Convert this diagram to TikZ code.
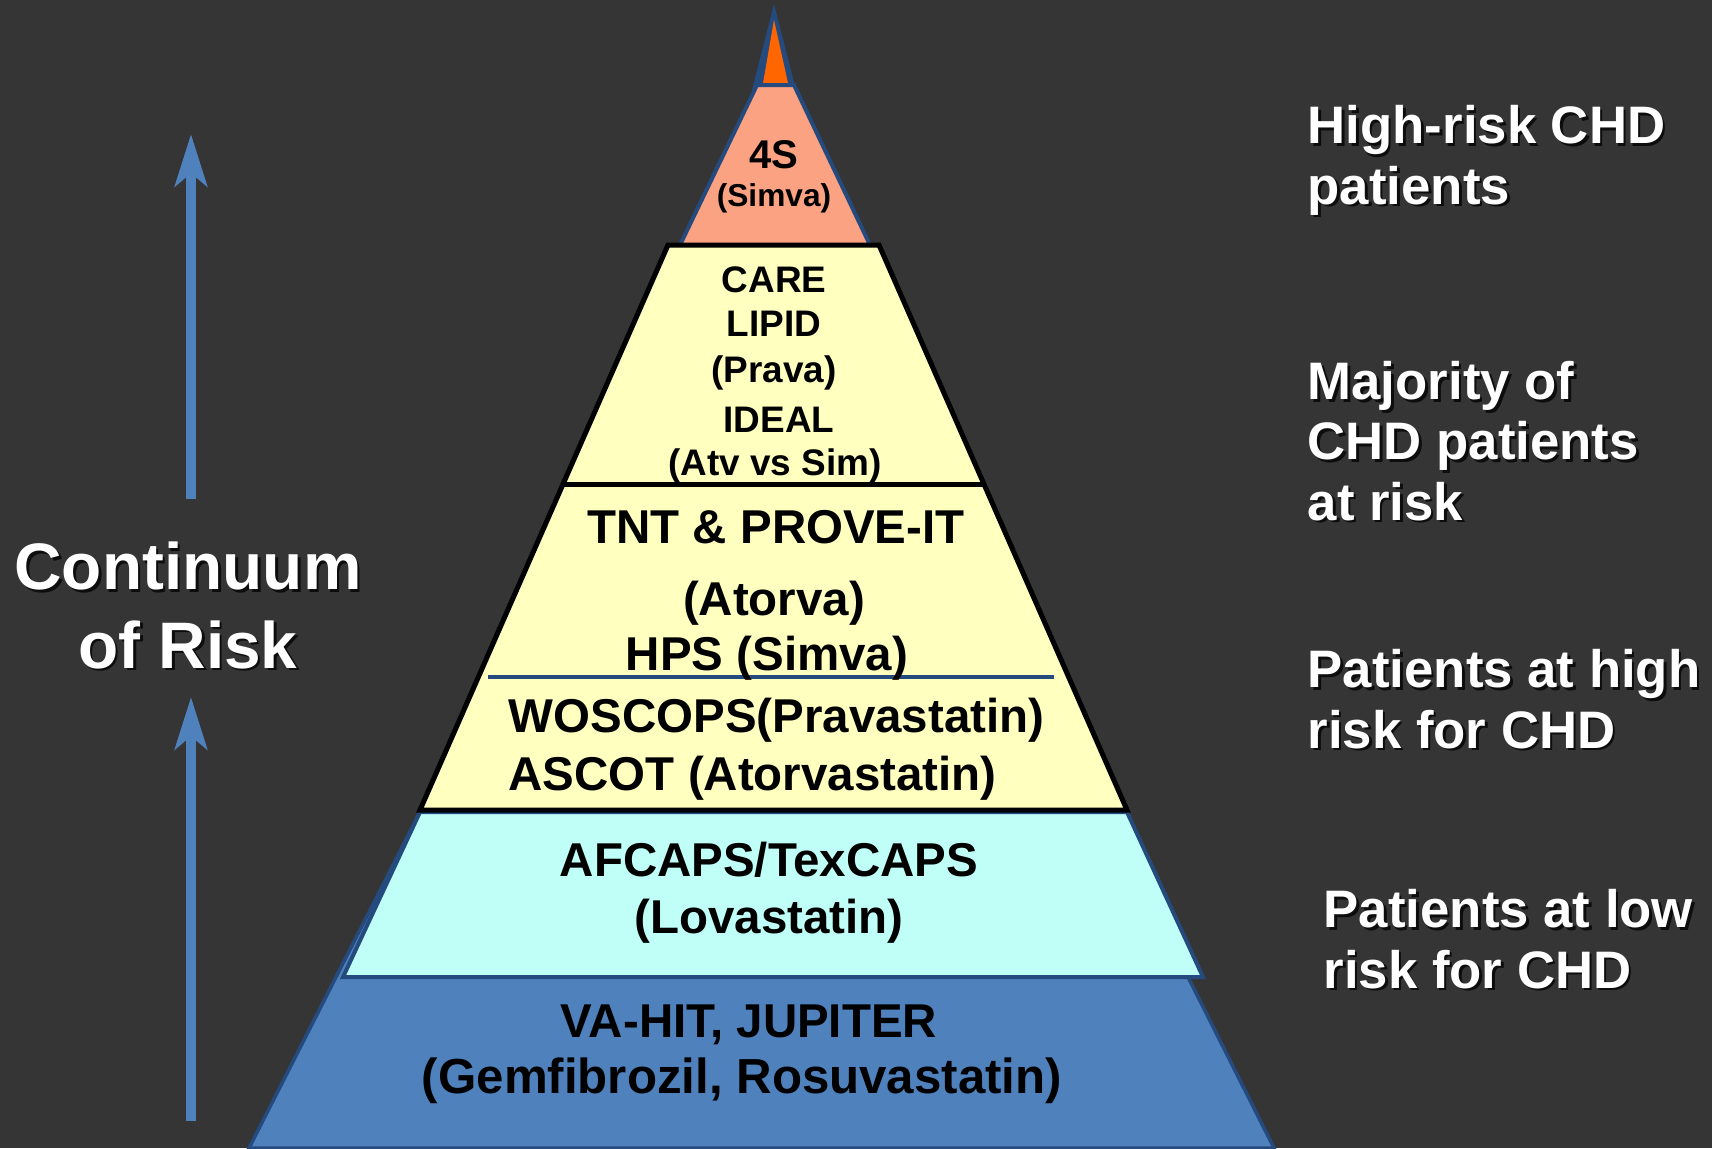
\documentclass[tikz,border=0pt]{standalone}
\usepackage{fontspec}
\setmainfont{Liberation Sans}
\usetikzlibrary{arrows.meta}

\definecolor{bgdark}{HTML}{353535}
\definecolor{riskblue}{HTML}{4F81BD}
\definecolor{edgeblue}{HTML}{254A7E}
\definecolor{tipred}{HTML}{FF6600}
\definecolor{salmon}{HTML}{FBA282}
\definecolor{paleyellow}{HTML}{FFFFC0}
\definecolor{palecyan}{HTML}{C0FFF8}

\tikzset{
  trial/.style={font=\bfseries\fontsize{13.5}{16}\selectfont, inner sep=0pt, anchor=base},
  smalltrial/.style={font=\bfseries\fontsize{10.5}{13}\selectfont, inner sep=0pt, anchor=base},
  lbl/.style={font=\bfseries\fontsize{15}{17.1}\selectfont, text=white, align=left, inner sep=0pt, anchor=base west},
  bigl/.style={lbl, font=\bfseries\fontsize{18.7}{22.2}\selectfont, align=center, anchor=base},
  riskarrow/.style={riskblue, line width=0.1cm, -{Stealth[length=0.52cm, width=0.32cm, inset=0.13cm]}},
}

% white label with a drop shadow: style, name, position (last baseline), text
\newcommand{\risklabel}[4][lbl]{%
  \node[#1, text=black, opacity=0.75, xshift=0.025cm, yshift=-0.025cm] at (#3) {#4};
  \node[#1] (#2) at (#3) {#4};}

\begin{document}
\begin{tikzpicture}[x=0.01cm, y=-0.01cm]
\useasboundingbox (0,0) rectangle (1712,1148);
\fill[bgdark] (0,0) rectangle (1712,1148);

% pyramid, bottom layers first
\filldraw[fill=riskblue, draw=edgeblue, line width=0.035cm] (421,810) -- (1127,810) -- (1188,977) -- (1274,1148) -- (249,1148) -- cycle;
\filldraw[fill=palecyan, draw=edgeblue, line width=0.04cm] (420,812) -- (1127,812) -- (1203,977) -- (343,977) -- cycle;
% tip and top layer
\fill[edgeblue] (774,4) -- (796,90) -- (752,90) -- cycle;
\fill[tipred] (774,20) -- (788,83) -- (763,83) -- cycle;
\filldraw[fill=salmon, draw=edgeblue, line width=0.04cm] (757,85) -- (794,85) -- (870,245) -- (680,245) -- cycle;
% middle block
\filldraw[fill=paleyellow, draw=black, line width=0.05cm] (668,245) -- (879,245) -- (1127,810) -- (420,810) -- cycle;
\draw[black, line width=0.05cm] (563,484) -- (984,484);
\draw[edgeblue, line width=0.04cm] (488,677) -- (1054,677);

% trial names
\node[trial, font=\bfseries\fontsize{11.4}{13}\selectfont] (fours) at (774,168) {4S};
\node[trial, font=\bfseries\fontsize{9}{11}\selectfont] (foursdrug) at (774,206) {(Simva)};
\foreach \txt/\xx/\yy [count=\i] in {CARE/774/292, LIPID/774/336, (Prava)/774/382, IDEAL/779/432, (Atv vs Sim)/775/475}
  \node[smalltrial] (care\i) at (\xx,\yy) {\txt};
\node[trial] (tnt) at (776,543) {TNT \& PROVE-IT};
\node[trial] (tntdrug) at (774,615) {(Atorva)};
\node[trial] (hps) at (767,670) {HPS (Simva)};
\node[trial, anchor=base west] (woscops) at (508,732) {WOSCOPS(Pravastatin)};
\node[trial, anchor=base west] (ascot) at (508,790) {ASCOT (Atorvastatin)};
\node[trial] (afcaps) at (769,876) {AFCAPS/TexCAPS};
\node[trial] (afcapsdrug) at (769,933) {(Lovastatin)};
\node[trial] (vahit) at (749,1037) {VA-HIT, JUPITER};
\node[trial, font=\bfseries\fontsize{14}{16}\selectfont] (vahitdrug) at (742,1093) {(Gemfibrozil, Rosuvastatin)};

% risk groups on the right
\risklabel{highrisk}{1307,204}{High-risk CHD\\patients}
\risklabel{majority}{1307,520}{Majority of\\CHD patients\\at risk}
\risklabel{highpat}{1307,748}{Patients at high\\risk for CHD}
\risklabel{lowpat}{1323,988}{Patients at low\\risk for CHD}

% continuum arrows
\risklabel[bigl]{continuum}{188,668}{Continuum\\of Risk}
\coordinate (uptail) at (191,499);
\coordinate (uphead) at (191,134);
\coordinate (lowtail) at (191,1121);
\coordinate (lowhead) at (191,697);
\draw[riskarrow] (uptail) -- (uphead);
\draw[riskarrow] (lowtail) -- (lowhead);
\end{tikzpicture}
\end{document}
